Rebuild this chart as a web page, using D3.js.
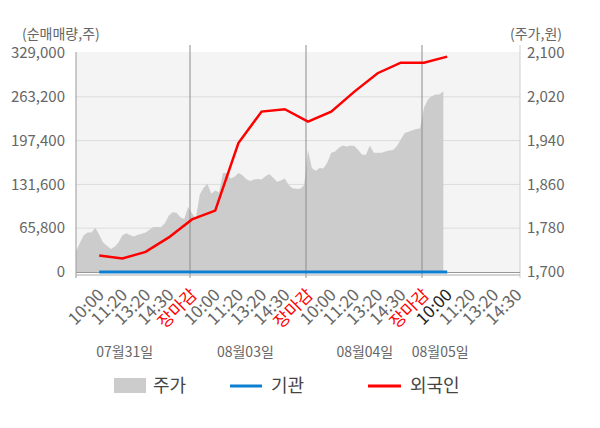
<!DOCTYPE html>
<html>
<head>
<meta charset="utf-8">
<script src="https://d3js.org/d3.v7.min.js"></script>
<style>
  body { margin: 0; background: #fff; }
  svg { display: block; font-family: "Noto Sans CJK KR", "Noto Sans", sans-serif; }
</style>
</head>
<body>
<svg id="drawing_region"></svg>
<script>
// day names and time tick labels (one tick per slot, slot 0 is the left edge)
const days = ["07월31일", "08월03일", "08월04일", "08월05일"];
const tickLabels = [
    "10:00", "11:20", "13:20", "14:30", "장마감",
    "10:00", "11:20", "13:20", "14:30", "장마감",
    "10:00", "11:20", "13:20", "14:30", "장마감",
    "10:00", "11:20", "13:20", "14:30"
];
const leftTicks = [0, 65800, 131600, 197400, 263200, 329000];
const rightTicks = [1700, 1780, 1860, 1940, 2020, 2100];

// net buying (shares), one value per tick from slot 1
const foreignNet = [24700, 20200, 30300, 52000, 79000, 92200, 193700, 241000,
                    244600, 226000, 241000, 271000, 298600, 314500, 314500, 323500];
const instNet = [0, 0, 0, 0, 0, 0, 0, 0, 0, 0, 0, 0, 0, 0, 0, 0];

// stock price (won), six samples per slot
const price = [
    1738, 1753, 1767, 1772, 1772, 1781, 1768, 1754, 1748, 1742, 1746, 1754,
    1767, 1771, 1767, 1765, 1768, 1770, 1772, 1777, 1782, 1782, 1782, 1789,
    1803, 1809, 1808, 1800, 1797, 1819, 1807, 1798, 1841, 1854, 1861, 1843,
    1849, 1845, 1881, 1881, 1871, 1874, 1881, 1877, 1870, 1866, 1869, 1870,
    1869, 1875, 1879, 1872, 1865, 1867, 1871, 1859, 1853, 1852, 1852, 1859,
    1923, 1890, 1885, 1890, 1889, 1900, 1918, 1920, 1927, 1931, 1929, 1931,
    1930, 1923, 1914, 1914, 1931, 1918, 1918, 1918, 1920, 1922, 1923, 1930,
    1942, 1954, 1956, 1959, 1961, 1962, 2000, 2015, 2021, 2024, 2024, 2030
];

const config = {
    parent: '#drawing_region',
    width: 600,
    height: 428,
    plot: {left: 76, right: 520, top: 52, bottom: 272}
};

const svg = d3.select(config.parent)
    .attr('width', config.width)
    .attr('height', config.height);

const P = config.plot;
const slotsPerDay = 5;

const xscale = d3.scaleLinear()
    .domain([0, tickLabels.length])
    .range([P.left, P.left + 23.2 * tickLabels.length]);

const yleft = d3.scaleLinear()
    .domain([0, 329000])
    .range([P.bottom, P.top + 1]);

const yright = d3.scaleLinear()
    .domain([1700, 2100])
    .range([P.bottom, P.top + 1]);

// plot background
svg.append('rect')
    .attr('x', P.left)
    .attr('y', P.top)
    .attr('width', P.right - P.left)
    .attr('height', P.bottom - P.top)
    .attr('fill', '#f4f4f4');

// horizontal grid
svg.append('g')
    .selectAll('line')
    .data(leftTicks.slice(1, -1))
    .join('line')
    .attr('x1', P.left)
    .attr('x2', P.right)
    .attr('y1', d => yleft(d))
    .attr('y2', d => yleft(d))
    .attr('stroke', '#dcdcdc')
    .attr('stroke-width', 1);

// price area
const area = d3.area()
    .x((d, i) => xscale(i / 6))
    .y0(P.bottom)
    .y1(d => yright(d));

svg.append('path')
    .datum(price)
    .attr('d', area)
    .attr('fill', '#cccccc');

// day separators
svg.append('g')
    .selectAll('line')
    .data([1, 2, 3])
    .join('line')
    .attr('x1', d => xscale(d * slotsPerDay) - 2)
    .attr('x2', d => xscale(d * slotsPerDay) - 2)
    .attr('y1', 45)
    .attr('y2', 278)
    .attr('stroke', '#8c8c8c')
    .attr('stroke-width', 1);

// left and right axis lines
svg.append('line')
    .attr('x1', P.left).attr('x2', P.left)
    .attr('y1', P.top).attr('y2', 278)
    .attr('stroke', '#999');
svg.append('line')
    .attr('x1', P.right).attr('x2', P.right)
    .attr('y1', 45).attr('y2', 278)
    .attr('stroke', '#cfcfcf');

// bottom double line
svg.append('line')
    .attr('x1', P.left).attr('x2', P.right)
    .attr('y1', P.bottom + 0.5).attr('y2', P.bottom + 0.5)
    .attr('stroke', '#999');
svg.append('line')
    .attr('x1', P.left).attr('x2', P.right)
    .attr('y1', P.bottom + 3).attr('y2', P.bottom + 3)
    .attr('stroke', '#aaa');

// net buying lines
const netLine = d3.line()
    .x((d, i) => xscale(i + 1))
    .y(d => yleft(d));

svg.append('path')
    .datum(instNet)
    .attr('d', netLine)
    .attr('fill', 'none')
    .attr('stroke', '#0d7fd0')
    .attr('stroke-width', 3);

svg.append('path')
    .datum(foreignNet)
    .attr('d', netLine)
    .attr('fill', 'none')
    .attr('stroke', '#ff0000')
    .attr('stroke-width', 2.5);

// left axis labels
svg.append('g')
    .selectAll('text')
    .data(leftTicks)
    .join('text')
    .attr('x', 65)
    .attr('y', d => yleft(d))
    .attr('dy', '0.35em')
    .attr('text-anchor', 'end')
    .attr('font-size', '15px')
    .attr('fill', '#666')
    .text(d => d3.format(',')(d));

// right axis labels
svg.append('g')
    .selectAll('text')
    .data(rightTicks)
    .join('text')
    .attr('x', 527)
    .attr('y', d => yright(d))
    .attr('dy', '0.35em')
    .attr('font-size', '15px')
    .attr('fill', '#666')
    .text(d => d3.format(',')(d));

svg.append('text')
    .attr('x', 22)
    .attr('y', 39)
    .attr('font-size', '14px')
    .attr('fill', '#666')
    .text('(순매매량,주)');

svg.append('text')
    .attr('x', 562)
    .attr('y', 39)
    .attr('text-anchor', 'end')
    .attr('font-size', '14px')
    .attr('fill', '#666')
    .text('(주가,원)');

// time tick labels, rotated
svg.append('g')
    .selectAll('text')
    .data(tickLabels)
    .join('text')
    .attr('transform', (d, i) => `translate(${xscale(i + 1) + 6}, 296) rotate(-45)`)
    .attr('text-anchor', 'end')
    .attr('font-size', '17px')
    .attr('fill', (d, i) => d === '장마감' ? '#ff0000' : (i === 15 ? '#222' : '#666'))
    .text(d => d);

// day labels
const dayCenters = [2.1, 7.3, 12.45, 15.7];
svg.append('g')
    .selectAll('text')
    .data(days)
    .join('text')
    .attr('x', (d, i) => xscale(dayCenters[i]))
    .attr('y', 357)
    .attr('text-anchor', 'middle')
    .attr('font-size', '14px')
    .attr('fill', '#666')
    .text(d => d);

// legend
const legend = svg.append('g');
legend.append('rect')
    .attr('x', 114).attr('y', 378)
    .attr('width', 32).attr('height', 15)
    .attr('fill', '#cccccc');
legend.append('line')
    .attr('x1', 230).attr('x2', 262)
    .attr('y1', 386).attr('y2', 386)
    .attr('stroke', '#0d7fd0').attr('stroke-width', 3);
legend.append('line')
    .attr('x1', 368).attr('x2', 401)
    .attr('y1', 386).attr('y2', 386)
    .attr('stroke', '#ff0000').attr('stroke-width', 3);
legend.selectAll('text.lg')
    .data([{t: '주가', x: 153}, {t: '기관', x: 271}, {t: '외국인', x: 410}])
    .join('text')
    .attr('class', 'lg')
    .attr('x', d => d.x)
    .attr('y', 386)
    .attr('dy', '0.36em')
    .attr('font-size', '18px')
    .attr('fill', '#444')
    .text(d => d.t);
</script>
</body>
</html>
